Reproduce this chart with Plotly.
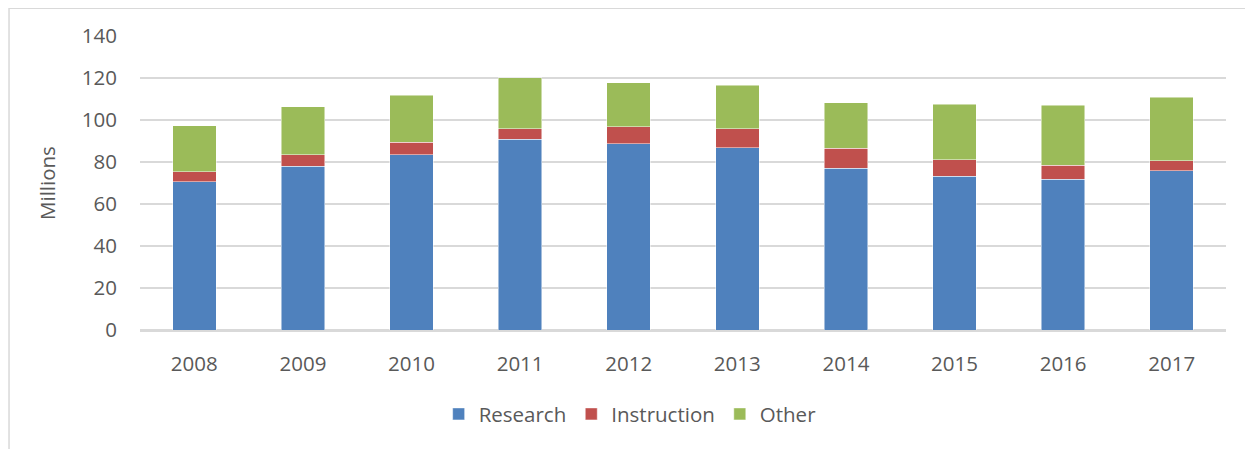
import plotly.graph_objects as go

years = ['2008', '2009', '2010', '2011', '2012', '2013', '2014', '2015', '2016', '2017']
research = [70.5, 77.9, 83.5, 90.8, 88.7, 86.8, 77.0, 73.2, 71.9, 75.9]
instruction = [4.9, 5.6, 5.9, 5.1, 8.0, 9.1, 9.5, 7.9, 6.5, 4.7]
other = [21.9, 22.7, 22.3, 24.3, 21.1, 20.6, 21.6, 26.4, 28.6, 30.2]

series_names = ['Research', 'Instruction', 'Other']
series_colors = ['#4F81BD', '#C0504D', '#9BBB59']

txt = '#595959'
fnt = 'Open Sans, Liberation Sans, sans-serif'
fs = 20.5

fig = go.Figure()
for name, vals, col in zip(series_names, [research, instruction, other], series_colors):
	fig.add_trace(go.Bar(x=years, y=vals, name=name,
		marker=dict(color=col, line=dict(color='rgba(255,255,255,0.6)', width=0.8))))

# page body has an 8px margin, so the figure is a bit smaller than the window
fig.update_layout(
	barmode='stack', bargap=0.6,
	width=1245, height=441,
	margin=dict(l=132, r=27, t=28, b=119),
	paper_bgcolor='white', plot_bgcolor='white',
	font=dict(family=fnt, size=fs, color=txt),
	showlegend=True,
	legend=dict(orientation='h', x=0.275, xanchor='left', y=-0.286, yanchor='middle',
		font=dict(size=fs, color=txt), traceorder='normal'),
	xaxis=dict(showgrid=False, showline=False, ticks='', ticklabelstandoff=19,
		tickfont=dict(size=fs, color=txt)),
	yaxis=dict(range=[0, 140], dtick=20, showgrid=True, gridcolor='#D9D9D9', gridwidth=1.5,
		zeroline=True, zerolinecolor='#D9D9D9', zerolinewidth=2.5, showline=False,
		ticks='', ticklabelstandoff=22, tickfont=dict(size=fs, color=txt),
		title=dict(text='Millions', standoff=20, font=dict(size=fs, color=txt))),
	shapes=[dict(type='rect', xref='paper', yref='paper', x0=-0.1206, x1=1.05, y0=-0.5, y1=1.0945,
		line=dict(color='#D9D9D9', width=1.5), fillcolor='rgba(0,0,0,0)', layer='below')],
)

fig.write_html('out.html')
